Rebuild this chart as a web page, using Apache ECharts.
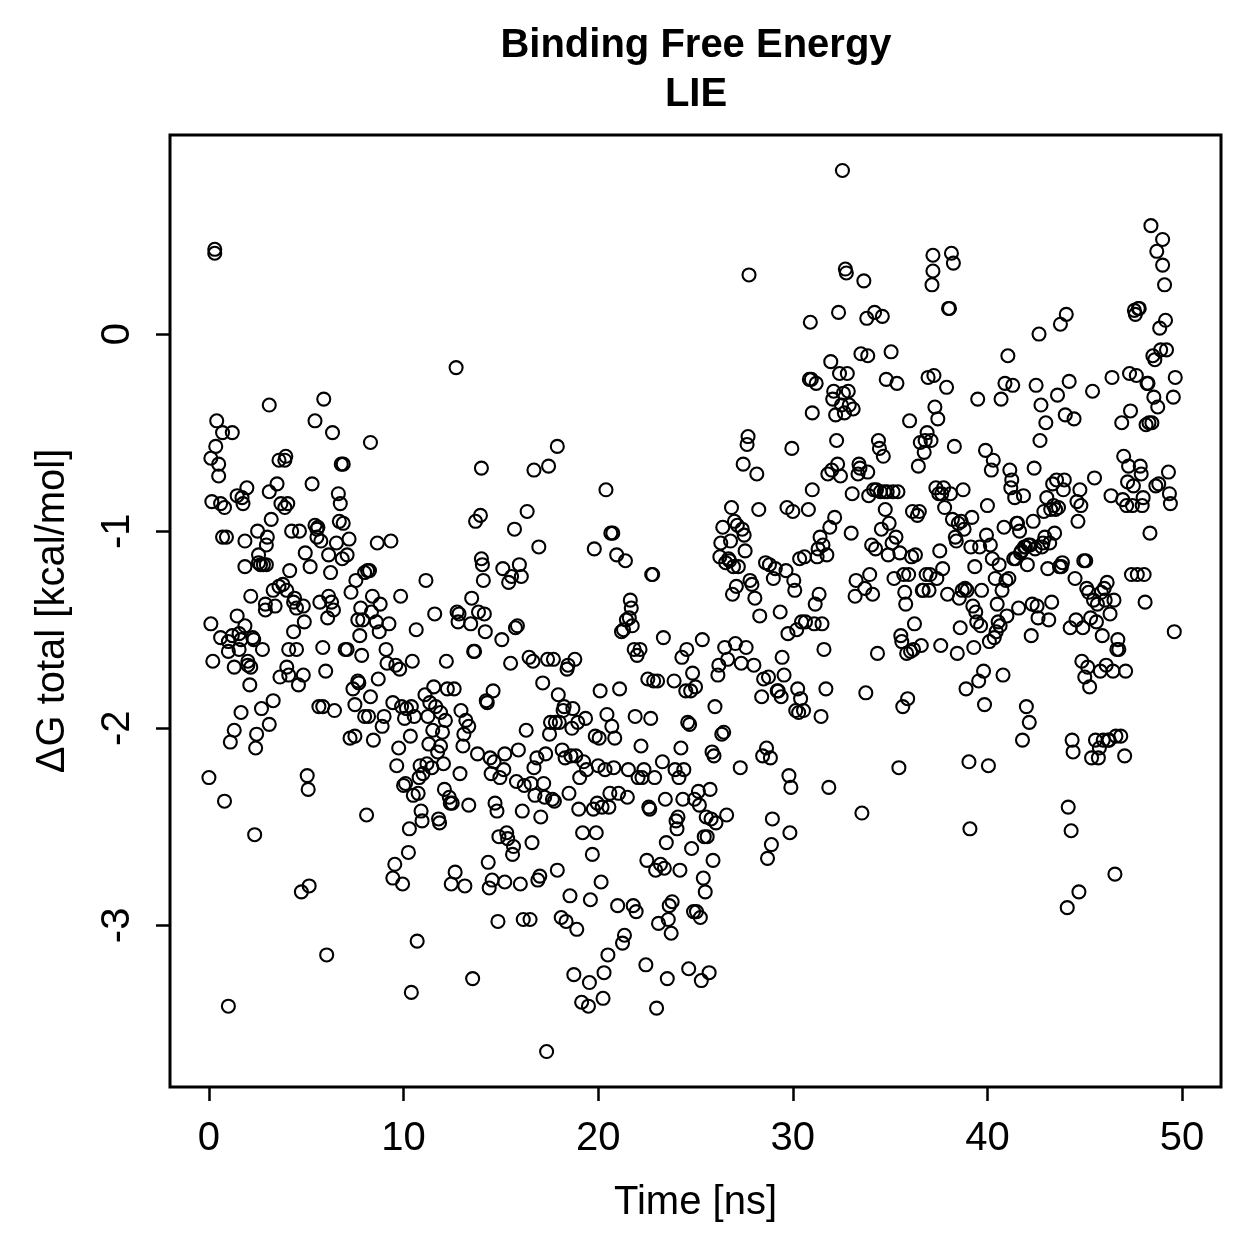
<!DOCTYPE html>
<html>
<head>
<meta charset="utf-8">
<script src="https://cdn.jsdelivr.net/npm/echarts@6/dist/echarts.min.js"></script>
<style>
  html, body { margin: 0; padding: 0; background: #fff; }
  #main { width: 1259px; height: 1259px; }
</style>
</head>
<body>
<div id="main"></div>
<script>
// [time (ns), dG total (kcal/mol)]
const run0to10 = [
  [0,-2.25],[0.1,-1.47],[0.1,-0.63],[0.2,-1.66],[0.15,-0.85],[0.3,0.43],[0.3,0.41],[0.4,-0.44],[0.35,-0.57],[0.5,-0.72],
  [0.5,-0.66],[0.6,-0.86],[0.6,-1.54],[0.7,-0.5],[0.8,-0.88],[0.7,-1.03],[0.9,-1.03],[0.8,-2.37],[1.0,-3.41],[1.0,-1.61],
  [1.0,-1.56],[1.1,-2.07],[1.2,-0.5],[1.2,-1.53],[1.3,-2.01],[1.3,-1.69],[1.45,-1.43],[1.45,-0.82],[1.55,-1.6],[1.55,-1.52],
  [1.65,-1.92],[1.65,-1.55],[1.7,-0.83],[1.75,-0.86],[1.85,-1.48],[1.85,-1.18],[1.85,-1.05],[1.95,-0.78],[2.0,-1.66],[2.1,-1.78],
  [2.0,-1.68],[2.15,-1.69],[2.15,-1.33],[2.25,-1.54],[2.3,-1.55],[2.35,-2.54],[2.4,-2.1],[2.45,-2.03],[2.5,-1.0],[2.55,-1.12],
  [2.55,-1.16],[2.65,-1.17],[2.7,-1.9],[2.75,-1.6],[2.8,-1.17],[2.9,-1.4],[2.9,-1.37],[2.95,-1.07],[2.95,-1.17],[3.0,-1.03],
  [3.1,-1.98],[3.1,-0.8],[3.1,-0.36],[3.2,-0.94],[3.3,-1.3],[3.3,-1.86],[3.4,-1.38],[3.5,-0.76],[3.6,-0.64],[3.6,-1.28],
  [3.65,-1.74],[3.7,-0.86],[3.8,-1.27],[3.9,-0.88],[3.9,-0.64],[3.95,-0.62],[4.0,-1.3],[4.0,-1.69],[4.05,-0.86],[4.1,-1.6],
  [4.1,-1.73],[4.15,-1.2],[4.25,-1.0],[4.35,-1.51],[4.35,-1.36],[4.4,-1.34],[4.5,-1.39],[4.5,-1.6],[4.6,-1.78],[4.65,-1.0],
  [4.75,-2.83],[4.85,-1.73],[4.85,-1.38],[4.95,-1.11],[4.9,-1.46],[5.05,-2.24],[5.1,-2.31],[5.15,-2.8],[5.2,-1.18],[5.3,-0.76],
  [5.45,-0.44],[5.45,-0.97],[5.55,-0.99],[5.55,-1.03],[5.6,-0.98],[5.65,-1.89],[5.7,-1.36],[5.75,-1.05],[5.85,-1.59],[5.85,-1.89],
  [5.9,-0.33],[6.0,-1.71],[6.05,-3.15],[6.1,-1.44],[6.15,-1.33],[6.15,-1.12],[6.25,-1.21],[6.3,-1.36],[6.35,-0.5],[6.4,-1.4],
  [6.45,-1.91],[6.55,-1.06],[6.65,-0.81],[6.7,-0.95],[6.75,-0.86],[6.8,-0.66],[6.9,-0.66],[6.85,-1.14],[6.9,-0.96],[7.0,-1.6],
  [7.1,-1.6],[7.1,-1.12],[7.2,-1.04],[7.25,-2.05],[7.3,-1.31],[7.4,-1.8],[7.5,-1.88],[7.5,-2.04],[7.55,-1.25],[7.65,-1.45],
  [7.65,-1.76],[7.7,-1.77],[7.75,-1.53],[7.8,-1.39],[7.85,-1.63],[7.9,-1.45],[8.0,-1.21],[8.0,-1.94],[8.1,-2.44],[8.15,-1.2],
  [8.2,-1.94],[8.25,-1.2],[8.3,-0.55],[8.3,-1.84],[8.35,-1.41],[8.4,-1.33],[8.45,-2.06],[8.6,-1.46],[8.65,-1.06],[8.7,-1.75],
  [8.75,-1.51],[8.8,-1.37],[8.9,-1.99],[9.0,-1.94],[9.1,-1.6],[9.15,-1.67],[9.25,-1.47],[9.35,-1.05],[9.45,-2.76],[9.45,-1.87],
  [9.55,-2.69],[9.6,-1.68],[9.65,-2.19],[9.75,-2.1],[9.8,-1.7],[9.85,-1.33],[9.9,-1.89],[9.95,-2.79]
];
const run10to20 = [
  [10.0,-2.29],[10.05,-1.95],[10.1,-2.28],[10.15,-1.9],[10.25,-2.63],[10.35,-2.04],[10.3,-2.51],[10.4,-1.89],[10.4,-3.34],[10.45,-1.66],
  [10.5,-2.34],[10.55,-1.94],[10.65,-1.5],[10.7,-3.08],[10.75,-2.33],[10.8,-2.25],[10.85,-2.19],[10.9,-2.42],[10.95,-2.47],[11.0,-2.23],
  [11.1,-1.83],[11.15,-1.25],[11.2,-2.18],[11.25,-1.94],[11.3,-2.08],[11.35,-1.87],[11.45,-2.2],[11.5,-2.01],[11.55,-1.79],[11.6,-1.42],
  [11.65,-1.89],[11.75,-2.12],[11.8,-2.46],[11.85,-2.48],[11.9,-1.92],[11.9,-2.09],[12.0,-2.02],[12.05,-2.18],[12.1,-2.31],[12.15,-1.96],
  [12.2,-1.66],[12.25,-1.8],[12.35,-2.35],[12.4,-2.38],[12.45,-2.79],[12.5,-2.38],[12.6,-1.8],[12.65,-2.73],[12.7,-0.17],[12.75,-1.41],
  [12.8,-1.46],[12.85,-1.42],[12.9,-2.23],[12.95,-1.91],[13.05,-2.09],[13.1,-2.03],[13.15,-2.8],[13.2,-1.96],[13.35,-2.39],[13.35,-1.99],
  [13.45,-1.47],[13.5,-1.34],[13.55,-3.27],[13.6,-1.61],[13.65,-1.61],[13.7,-0.95],[13.8,-2.13],[13.85,-1.41],[13.95,-0.92],[14.0,-0.68],
  [14.0,-1.14],[14.05,-1.17],[14.1,-1.25],[14.15,-1.42],[14.2,-1.51],[14.25,-1.86],[14.3,-1.87],[14.35,-2.68],[14.4,-2.81],[14.45,-2.15],
  [14.5,-2.23],[14.55,-2.77],[14.6,-1.81],[14.65,-2.17],[14.7,-2.38],[14.8,-2.42],[14.85,-2.98],[14.9,-2.55],[14.95,-2.25],[15.05,-1.55],
  [15.1,-1.19],[15.15,-2.21],[15.2,-2.13],[15.2,-2.78],[15.3,-2.53],[15.35,-2.56],[15.4,-1.26],[15.5,-1.67],[15.55,-1.23],[15.6,-2.64],
  [15.65,-2.6],[15.7,-0.99],[15.75,-1.49],[15.8,-2.27],[15.85,-1.48],[15.9,-2.11],[15.95,-1.17],[16.0,-2.79],[16.05,-1.23],[16.1,-2.42],
  [16.15,-2.97],[16.2,-2.29],[16.3,-2.01],[16.35,-0.9],[16.45,-1.64],[16.5,-2.97],[16.55,-2.28],[16.6,-2.58],[16.65,-1.66],[16.7,-2.2],
  [16.7,-0.69],[16.75,-2.34],[16.85,-2.15],[16.9,-2.77],[16.95,-1.08],[17.0,-2.75],[17.05,-2.45],[17.15,-1.77],[17.2,-2.28],[17.25,-2.35],
  [17.3,-2.13],[17.35,-3.64],[17.4,-1.65],[17.45,-0.67],[17.5,-2.03],[17.55,-1.97],[17.65,-2.36],[17.7,-1.65],[17.75,-2.37],[17.8,-1.97],
  [17.9,-0.57],[17.9,-2.72],[17.95,-1.83],[18.0,-1.97],[18.1,-2.96],[18.15,-2.11],[18.2,-1.91],[18.25,-1.89],[18.3,-2.15],[18.35,-2.98],
  [18.4,-1.7],[18.45,-1.68],[18.5,-2.33],[18.55,-2.85],[18.6,-2.14],[18.65,-2.0],[18.7,-1.9],[18.75,-3.25],[18.8,-1.65],[18.85,-2.14],
  [18.9,-3.02],[18.95,-1.97],[19.0,-2.41],[19.05,-2.25],[19.15,-3.39],[19.2,-2.53],[19.25,-2.17],[19.35,-1.95],[19.4,-2.21],[19.5,-3.41],
  [19.55,-3.29],[19.6,-2.87],[19.7,-2.64],[19.75,-2.41],[19.8,-1.09],[19.85,-2.04],[19.9,-2.53],[19.95,-2.38]
];
const run20to30 = [
  [20.0,-2.19],[20.05,-2.05],[20.1,-1.81],[20.15,-2.78],[20.2,-2.4],[20.25,-3.37],[20.3,-3.24],[20.35,-2.21],[20.4,-0.79],[20.45,-1.93],
  [20.5,-3.15],[20.55,-2.4],[20.6,-2.33],[20.65,-1.01],[20.7,-1.99],[20.75,-1.01],[20.8,-2.2],[20.85,-2.05],[20.95,-1.12],[21.0,-2.9],
  [21.05,-2.33],[21.1,-1.8],[21.2,-1.51],[21.25,-3.09],[21.3,-1.5],[21.35,-3.05],[21.4,-1.15],[21.45,-1.45],[21.5,-2.35],[21.55,-2.21],
  [21.6,-1.44],[21.65,-1.35],[21.7,-1.39],[21.75,-1.48],[21.8,-2.9],[21.85,-1.6],[21.9,-1.94],[21.95,-2.93],[22.0,-1.63],[22.05,-2.25],
  [22.15,-1.6],[22.2,-2.09],[22.25,-2.25],[22.35,-2.21],[22.45,-3.2],[22.5,-2.67],[22.55,-1.75],[22.6,-2.4],[22.65,-2.41],[22.7,-1.95],
  [22.75,-1.22],[22.8,-1.22],[22.85,-1.76],[22.9,-2.25],[22.95,-2.72],[23.0,-3.42],[23.05,-1.76],[23.1,-2.99],[23.2,-2.69],[23.3,-2.17],
  [23.35,-1.54],[23.4,-2.71],[23.45,-2.36],[23.5,-2.58],[23.55,-3.27],[23.6,-2.97],[23.65,-2.9],[23.75,-3.04],[23.8,-2.88],[23.9,-1.76],
  [23.95,-2.21],[24.0,-2.47],[24.05,-2.51],[24.1,-2.45],[24.15,-2.25],[24.2,-2.72],[24.25,-2.1],[24.3,-1.64],[24.35,-2.36],[24.4,-2.21],
  [24.5,-1.81],[24.55,-1.6],[24.6,-1.97],[24.65,-3.22],[24.7,-1.98],[24.75,-1.81],[24.8,-2.61],[24.85,-1.72],[24.9,-2.93],[24.95,-2.36],
  [25.0,-1.79],[25.05,-2.93],[25.15,-2.32],[25.2,-2.39],[25.25,-2.96],[25.3,-3.28],[25.35,-1.55],[25.4,-2.76],[25.45,-2.55],[25.5,-2.83],
  [25.55,-2.45],[25.6,-2.55],[25.7,-3.24],[25.75,-2.31],[25.8,-2.46],[25.85,-2.12],[25.9,-2.67],[25.95,-2.14],[26.0,-1.89],[26.05,-2.48],
  [26.15,-1.73],[26.2,-1.68],[26.25,-1.13],[26.3,-1.06],[26.35,-2.03],[26.4,-0.98],[26.45,-2.02],[26.5,-1.59],[26.55,-1.16],[26.6,-2.44],
  [26.65,-1.65],[26.7,-1.14],[26.75,-1.15],[26.8,-1.05],[26.85,-0.88],[26.9,-1.32],[26.95,-1.18],[27.0,-0.95],[27.05,-1.57],[27.1,-1.28],
  [27.15,-0.97],[27.2,-1.18],[27.3,-2.2],[27.35,-1.67],[27.4,-0.99],[27.45,-0.66],[27.5,-1.02],[27.55,-1.1],[27.6,-1.59],[27.65,-0.56],
  [27.7,-0.52],[27.75,0.3],[27.8,-1.25],[27.9,-1.27],[28.0,-1.68],[28.05,-1.34],[28.15,-0.71],[28.25,-0.89],[28.3,-1.43],[28.4,-1.84],
  [28.45,-2.14],[28.5,-1.75],[28.6,-1.16],[28.65,-2.1],[28.7,-2.66],[28.75,-1.74],[28.8,-1.17],[28.85,-2.15],[28.9,-2.59],[28.95,-2.46],
  [29.0,-1.24],[29.1,-1.19],[29.2,-1.81],[29.25,-1.81],[29.35,-1.41],[29.4,-1.84],[29.45,-1.64],[29.55,-1.73],[29.65,-1.2],[29.7,-0.88],
  [29.75,-1.52],[29.8,-2.24],[29.85,-2.53],[29.9,-2.3],[29.95,-0.58]
];
const run30to40 = [
  [30.0,-0.9],[30.05,-1.25],[30.1,-1.3],[30.15,-1.91],[30.2,-1.5],[30.25,-1.8],[30.3,-1.92],[30.35,-1.14],[30.4,-1.85],[30.45,-1.46],
  [30.55,-1.91],[30.6,-1.13],[30.65,-1.46],[30.8,-0.89],[30.85,-0.23],[30.9,0.06],[30.95,-0.23],[31.0,-0.4],[31.0,-0.79],[31.1,-1.47],
  [31.15,-1.37],[31.2,-0.25],[31.25,-1.13],[31.3,-1.09],[31.35,-1.32],[31.4,-1.03],[31.45,-1.94],[31.5,-1.47],[31.55,-1.07],[31.6,-1.6],
  [31.7,-1.8],[31.75,-1.12],[31.8,-0.71],[31.85,-2.3],[31.9,-0.98],[31.95,-0.14],[32.0,-0.69],[32.05,-0.33],[32.1,-0.29],[32.15,-0.93],
  [32.2,-0.41],[32.25,-0.54],[32.3,-0.66],[32.35,0.11],[32.4,-0.2],[32.45,-0.72],[32.5,-0.36],[32.55,0.83],[32.6,-0.3],[32.65,-0.4],
  [32.7,0.33],[32.75,0.31],[32.8,-0.2],[32.85,-0.29],[32.9,-0.36],[33.0,-1.01],[33.05,-0.81],[33.1,-0.38],[33.2,-1.33],[33.25,-1.25],
  [33.35,-0.71],[33.4,-0.66],[33.45,-0.68],[33.5,-0.1],[33.55,-2.43],[33.65,0.27],[33.7,-1.29],[33.75,-1.82],[33.8,0.08],[33.85,-0.7],
  [33.85,-0.11],[33.9,-0.82],[33.95,-1.22],[34.05,-1.07],[34.1,-1.32],[34.15,-0.79],[34.2,0.11],[34.25,-1.09],[34.3,-0.79],[34.35,-1.62],
  [34.4,-0.54],[34.45,-0.58],[34.5,-0.8],[34.55,-0.99],[34.6,0.09],[34.65,-0.62],[34.7,-0.8],[34.75,-0.89],[34.8,-0.23],[34.85,-0.8],
  [34.9,-1.12],[34.95,-0.96],[35.05,-0.09],[35.1,-1.06],[35.15,-0.8],[35.2,-1.24],[35.3,-1.03],[35.35,-0.25],[35.4,-0.8],[35.45,-2.2],
  [35.5,-1.11],[35.55,-1.53],[35.6,-1.56],[35.65,-1.89],[35.7,-1.22],[35.75,-1.31],[35.8,-1.37],[35.85,-1.62],[35.9,-1.85],[35.95,-1.22],
  [36.0,-0.44],[36.05,-1.61],[36.1,-1.13],[36.15,-0.9],[36.2,-1.6],[36.25,-1.47],[36.3,-1.12],[36.4,-0.92],[36.45,-0.67],[36.5,-0.9],
  [36.55,-0.55],[36.6,-1.58],[36.65,-1.3],[36.7,-1.3],[36.75,-0.6],[36.8,-0.54],[36.85,-1.22],[36.9,-0.5],[36.95,-0.22],[37.0,-1.3],
  [37.05,-1.22],[37.1,-0.54],[37.15,0.25],[37.2,0.4],[37.2,0.32],[37.25,-0.21],[37.3,-0.37],[37.35,-0.78],[37.4,-1.24],[37.45,-0.43],
  [37.5,-0.81],[37.55,-1.1],[37.6,-1.58],[37.65,-0.81],[37.7,-1.19],[37.75,-0.78],[37.8,-0.88],[37.9,-0.27],[37.95,-1.32],[38.0,0.13],
  [38.05,0.13],[38.1,-0.81],[38.15,0.41],[38.2,-0.94],[38.25,0.36],[38.3,-0.57],[38.35,-1.03],[38.4,-1.05],[38.45,-1.62],[38.5,-0.96],
  [38.55,-1.34],[38.6,-1.49],[38.65,-0.95],[38.7,-1.3],[38.75,-0.79],[38.8,-0.99],[38.85,-1.29],[38.9,-1.8],[38.95,-1.3],[39.05,-2.17],
  [39.1,-2.51],[39.15,-1.08],[39.2,-0.93],[39.25,-1.38],[39.3,-1.59],[39.35,-1.18],[39.4,-1.41],[39.45,-1.46],[39.5,-0.33],[39.55,-1.76],
  [39.6,-1.08],[39.65,-1.48],[39.7,-1.3],[39.8,-1.71],[39.85,-1.88],[39.9,-0.59],[39.95,-1.02]
];
const run40to50 = [
  [40.0,-0.87],[40.05,-2.19],[40.1,-1.56],[40.15,-1.07],[40.2,-0.69],[40.25,-1.14],[40.3,-0.64],[40.35,-1.54],[40.4,-1.24],[40.45,-1.51],
  [40.5,-1.37],[40.55,-1.46],[40.6,-1.17],[40.65,-1.48],[40.7,-0.33],[40.75,-1.3],[40.8,-1.73],[40.85,-0.98],[40.9,-0.25],[40.95,-1.25],
  [41.0,-1.43],[41.05,-0.11],[41.1,-1.24],[41.15,-0.69],[41.2,-0.78],[41.25,-0.74],[41.3,-0.26],[41.35,-1.14],[41.4,-0.83],[41.45,-1.14],
  [41.5,-0.96],[41.55,-0.96],[41.6,-1.39],[41.65,-1.0],[41.7,-1.11],[41.75,-1.1],[41.8,-2.06],[41.85,-0.82],[41.9,-1.08],[41.95,-1.08],
  [42.0,-1.89],[42.05,-1.17],[42.1,-1.07],[42.15,-1.97],[42.2,-1.07],[42.25,-1.53],[42.3,-1.37],[42.35,-0.95],[42.4,-0.68],[42.45,-1.09],
  [42.5,-0.26],[42.55,-1.38],[42.6,-1.44],[42.65,0.0],[42.7,-0.54],[42.75,-0.36],[42.8,-1.08],[42.85,-1.06],[42.9,-0.9],[42.95,-1.03],
  [43.0,-0.45],[43.05,-0.83],[43.1,-1.19],[43.15,-1.45],[43.2,-1.06],[43.25,-0.89],[43.3,-1.36],[43.35,-0.76],[43.4,-0.87],[43.45,-1.01],
  [43.5,-0.89],[43.55,-0.74],[43.6,-0.31],[43.65,-0.88],[43.7,-1.18],[43.75,0.05],[43.8,-1.18],[43.85,-1.16],[43.9,-0.79],[43.95,-0.74],
  [44.0,-0.41],[44.05,0.1],[44.1,-2.91],[44.15,-2.4],[44.2,-0.24],[44.25,-1.49],[44.3,-2.52],[44.35,-2.06],[44.4,-2.12],[44.45,-0.43],
  [44.5,-1.24],[44.55,-1.45],[44.6,-0.85],[44.65,-0.95],[44.7,-2.83],[44.75,-0.79],[44.8,-0.87],[44.85,-1.66],[44.9,-1.49],[44.95,-1.15],
  [45.0,-1.74],[45.05,-1.15],[45.1,-1.29],[45.15,-1.69],[45.2,-1.31],[45.25,-1.79],[45.3,-1.44],[45.35,-2.15],[45.4,-0.29],[45.45,-1.35],
  [45.5,-0.73],[45.55,-2.06],[45.6,-1.46],[45.65,-1.37],[45.7,-2.15],[45.75,-2.1],[45.8,-1.71],[45.85,-1.31],[45.9,-1.53],[45.95,-2.06],
  [46.0,-1.29],[46.05,-1.35],[46.1,-1.68],[46.15,-1.26],[46.2,-2.06],[46.25,-2.06],[46.3,-1.42],[46.35,-0.82],[46.4,-0.22],[46.45,-1.71],
  [46.5,-1.35],[46.55,-2.74],[46.6,-2.04],[46.65,-1.6],[46.7,-1.55],[46.75,-1.6],[46.85,-2.04],[46.9,-0.45],[46.95,-0.84],[47.0,-0.62],
  [47.05,-2.14],[47.1,-1.71],[47.15,-0.87],[47.2,-0.75],[47.25,-0.67],[47.3,-0.2],[47.35,-0.39],[47.4,-1.22],[47.45,-0.87],[47.5,-0.77],
  [47.55,0.12],[47.6,0.1],[47.65,-0.21],[47.7,-1.22],[47.75,0.13],[47.8,0.13],[47.85,-0.67],[47.9,-0.71],[47.95,-0.87],[48.0,-0.83],
  [48.05,-1.22],[48.1,-1.36],[48.15,-0.46],[48.2,-0.25],[48.25,-0.25],[48.3,-0.45],[48.35,-1.01],[48.4,0.55],[48.45,-0.45],[48.5,-0.11],
  [48.55,-0.32],[48.6,-0.13],[48.65,-0.77],[48.7,0.42],[48.75,-0.37],[48.8,-0.76],[48.85,0.03],[48.9,-0.08],[49.0,0.48],[49.0,0.35],
  [49.1,0.25],[49.15,0.07],[49.2,-0.08],[49.3,-0.7],[49.35,-0.81],[49.4,-0.86],[49.55,-0.32],[49.6,-1.51],[49.65,-0.22]
];

const xTicks = [0, 10, 20, 30, 40, 50];
const yTicks = [-3, -2, -1, 0];
const titleLines = ['Binding Free Energy', 'LIE'];

const points = run0to10.concat(run10to20, run20to30, run30to40, run40to50);

const font = '"Liberation Sans", Arial, Helvetica, sans-serif';
const chart = echarts.init(document.getElementById('main'), null, { renderer: 'canvas' });

chart.setOption({
  animation: false,
  backgroundColor: '#ffffff',
  graphic: [
    { type: 'text', x: 696, y: 46, style: { text: titleLines[0], fontFamily: font, fontSize: 40, fontWeight: 'bold', fill: '#000', align: 'center', verticalAlign: 'middle' } },
    { type: 'text', x: 696, y: 95, style: { text: titleLines[1], fontFamily: font, fontSize: 40, fontWeight: 'bold', fill: '#000', align: 'center', verticalAlign: 'middle' } }
  ],
  grid: {
    left: 170, top: 135, width: 1051, height: 952,
    show: true, borderColor: '#000', borderWidth: 3, backgroundColor: 'transparent'
  },
  xAxis: {
    type: 'value', min: -2, max: 52,
    name: 'Time [ns]', nameLocation: 'middle', nameGap: 96,
    nameTextStyle: { fontFamily: font, fontSize: 40, color: '#000' },
    axisLine: { show: false, onZero: false },
    splitLine: { show: false },
    axisTick: { show: true, customValues: xTicks, length: 14, lineStyle: { color: '#000', width: 2.5 } },
    axisLabel: { customValues: xTicks, fontFamily: font, fontSize: 40, color: '#000', margin: 32 }
  },
  yAxis: {
    type: 'value', min: -3.82, max: 1.01,
    name: 'ΔG total [kcal/mol]', nameLocation: 'middle', nameGap: 97, nameRotate: 90,
    nameTextStyle: { fontFamily: font, fontSize: 40, color: '#000' },
    axisLine: { show: false, onZero: false },
    splitLine: { show: false },
    axisTick: { show: true, customValues: yTicks, length: 14, lineStyle: { color: '#000', width: 2.5 } },
    axisLabel: { customValues: yTicks, rotate: 90, fontFamily: font, fontSize: 40, color: '#000', margin: 32 }
  },
  series: [{
    type: 'scatter',
    data: points,
    symbol: 'circle',
    symbolSize: 13,
    itemStyle: { color: 'transparent', borderColor: '#000', borderWidth: 2.1, opacity: 1 }
  }]
});
</script>
</body>
</html>
